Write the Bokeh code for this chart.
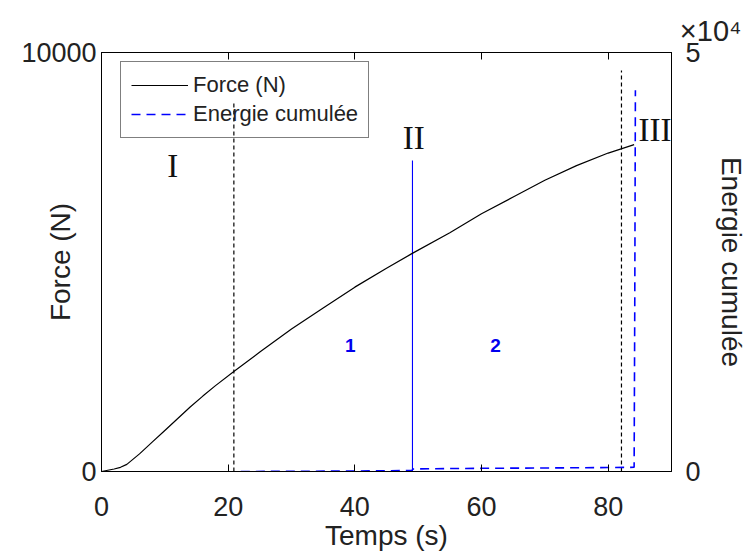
import math
from bokeh.plotting import figure
from bokeh.models import Range1d, LinearAxis, Legend, LegendItem, Title, FixedTicker
from bokeh.core.properties import value
from bokeh.embed import file_html
from bokeh.resources import INLINE

# ---- data ----
force_t = [0, 1, 2, 3, 4, 6, 8, 10, 12, 14, 16, 18, 21, 25, 30, 35, 40, 45, 49, 55, 60, 65, 70, 75, 80, 84.1]
force_N = [0, 30, 60, 100, 170, 420, 700, 980, 1260, 1540, 1800, 2050, 2400, 2850, 3400, 3900, 4400, 4850, 5200, 5700, 6150, 6550, 6950, 7300, 7600, 7800]

energy_t = [22, 30, 40, 49, 49.2, 55, 60, 70, 80, 84.1, 84.2, 84.3]
energy_J = [0, 20, 60, 120, 300, 350, 380, 420, 470, 500, 20000, 45500]

phase_t = [20.9, 82.1]
phase_top = [8850, 9570]

split_t = [49.1]
split_top = [7420]

roman_labels = ["I", "II", "III"]
roman_t = [11.25, 49.3, 87.4]
roman_F = [7300, 7970, 8160]

zone_labels = ["1", "2"]
zone_t = [39.3, 62.2]
zone_F = [3000, 3000]

x_ticks = [0, 20, 40, 60, 80]
yl_ticks = [0, 10000]
yr_ticks = [0, 50000]
yr_tick_text = {0: "0", 50000: "5"}

FONT = "Liberation Sans"
TXT = "#222222"

p = figure(width=749, height=558, output_backend="svg", toolbar_location=None,
           x_range=Range1d(0, 90), y_range=Range1d(0, 10000),
           min_border_left=101, min_border_right=72, min_border_top=52, min_border_bottom=87)
p.extra_y_ranges = {"E": Range1d(0, 50000)}
p.grid.visible = False
p.background_fill_color = "white"
p.border_fill_color = "white"
p.outline_line_color = "black"
p.outline_line_width = 1

def style_axis(ax, size="27px"):
    ax.major_tick_in = 7
    ax.major_tick_out = 0
    ax.minor_tick_line_color = None
    ax.axis_line_color = "black"
    ax.major_tick_line_color = "black"
    ax.major_label_text_font = FONT
    ax.major_label_text_font_size = size
    ax.major_label_text_color = TXT
    ax.axis_label_text_font = FONT
    ax.axis_label_text_font_size = "28px"
    ax.axis_label_text_font_style = "normal"
    ax.axis_label_text_color = TXT

xa = p.xaxis[0]
xa.ticker = FixedTicker(ticks=x_ticks)
style_axis(xa)
xa.major_label_standoff = 25
xa.axis_label = "Temps (s)"
xa.axis_label_standoff = 1

ya = p.yaxis[0]
ya.ticker = FixedTicker(ticks=yl_ticks)
style_axis(ya)
ya.major_label_standoff = 5
ya.axis_label = "Force (N)"
ya.axis_label_standoff = -58

top = LinearAxis(ticker=FixedTicker(ticks=x_ticks))
style_axis(top)
top.major_label_text_font_size = "0px"
p.add_layout(top, "above")

right = LinearAxis(y_range_name="E", ticker=FixedTicker(ticks=yr_ticks))
style_axis(right)
right.major_label_overrides = yr_tick_text
right.major_label_standoff = 14
right.axis_label = "Energie cumulée"
right.axis_label_standoff = 12
p.add_layout(right, "right")

expo = Title(text="×10⁴", align="right", offset=-70, text_font=FONT, text_font_size="29px",
             text_color=TXT, text_font_style="normal", standoff=12)
p.add_layout(expo, "above")

# phase boundaries
p.segment(x0=phase_t, y0=[0] * len(phase_t), x1=phase_t, y1=phase_top,
          line_color="black", line_width=1.2, line_dash="4 3")
p.segment(x0=split_t, y0=[0] * len(split_t), x1=split_t, y1=split_top,
          line_color="#0000ff", line_width=1.1)

r_force = p.line(force_t, force_N, line_color="black", line_width=1.2)
r_energy = p.line(energy_t, energy_J, y_range_name="E", line_color="#0000ff",
                  line_width=1.6, line_dash="9 6")

p.text(x=roman_t, y=roman_F, text=roman_labels, text_font=value("Liberation Serif"),
       text_font_size="33px", text_color="#111111", text_align="center", text_baseline="alphabetic")
p.text(x=zone_t, y=zone_F, text=zone_labels, text_font=value(FONT), text_font_style="bold",
       text_font_size="19px", text_color="#0000ee", text_align="center", text_baseline="alphabetic")

legend = Legend(items=[LegendItem(label="Force (N)", renderers=[r_force]),
                       LegendItem(label="Energie cumulée", renderers=[r_energy])],
                location=(19, 333))
legend.margin = 0
legend.padding = 10
legend.spacing = 3
legend.glyph_width = 57
legend.glyph_height = 22
legend.label_height = 22
legend.label_standoff = 5
legend.label_text_font = FONT
legend.label_text_font_size = "22px"
legend.label_text_color = TXT
legend.border_line_color = "black"
legend.border_line_width = 1
legend.background_fill_alpha = 0
p.add_layout(legend, "center")

open("out.html", "w").write(file_html(p, INLINE))
